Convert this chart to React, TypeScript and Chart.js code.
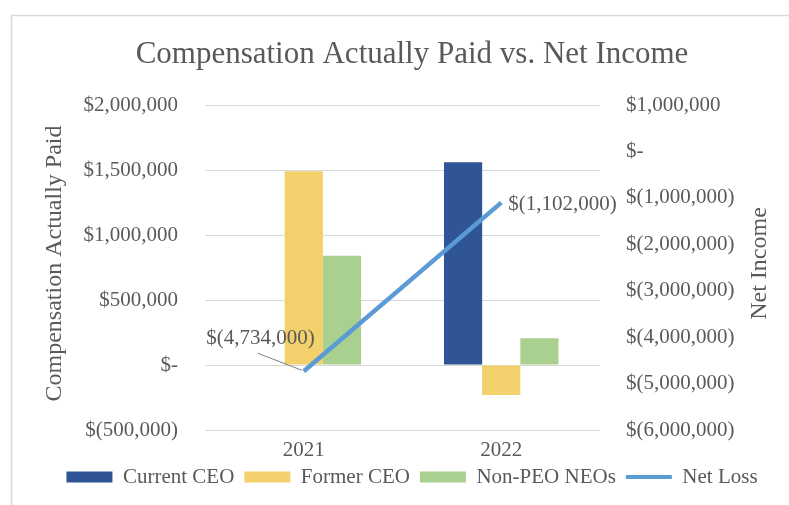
import React, { useEffect, useRef } from 'react';
import { Chart, registerables } from 'chart.js';

Chart.register(...registerables);

// ---- data ----
const YEARS = ['2021', '2022'];
const CURRENT_CEO: (number | null)[] = [null, 1560000];
const FORMER_CEO = [1490000, -230000];
const NON_PEO_NEOS = [840000, 205000];
const NET_LOSS = [-4734000, -1102000];
const NET_LOSS_LABELS = ['$(4,734,000)', '$(1,102,000)'];
const LEFT_TICK_LABELS = ['$(500,000)', '$-', '$500,000', '$1,000,000', '$1,500,000', '$2,000,000'];
const RIGHT_TICK_LABELS = [
  '$(6,000,000)', '$(5,000,000)', '$(4,000,000)', '$(3,000,000)',
  '$(2,000,000)', '$(1,000,000)', '$-', '$1,000,000',
];

const FONT = "'Liberation Serif', 'Times New Roman', serif";
const TEXT = '#595959';
const COLORS = {
  current: '#2F5597',
  former: '#F2D06B',
  nonPeo: '#A9D08E',
  net: '#5B9BD5',
};

const decorPlugin = {
  id: 'decor',
  beforeDraw(chart: any) {
    const ctx = chart.ctx;
    ctx.save();
    ctx.strokeStyle = '#D9D9D9';
    ctx.lineWidth = 1.5;
    ctx.strokeRect(11.5, 15.5, chart.width + 40, chart.height + 40);
    ctx.restore();
  },
  afterDatasetsDraw(chart: any) {
    const ctx = chart.ctx;
    const meta = chart.getDatasetMeta(3);
    ctx.save();
    ctx.font = `21px ${FONT}`;
    ctx.fillStyle = TEXT;
    ctx.textBaseline = 'middle';
    meta.data.forEach((pt: any, i: number) => {
      if (i === 0) {
        ctx.strokeStyle = '#7F7F7F';
        ctx.lineWidth = 1;
        ctx.beginPath();
        ctx.moveTo(pt.x - 46, pt.y - 18);
        ctx.lineTo(pt.x - 2, pt.y - 1);
        ctx.stroke();
        ctx.textAlign = 'right';
        ctx.fillText(NET_LOSS_LABELS[i], pt.x + 11, pt.y - 33);
      } else {
        ctx.textAlign = 'left';
        ctx.fillText(NET_LOSS_LABELS[i], pt.x + 7, pt.y + 2);
      }
    });
    ctx.restore();
  },
  afterDraw(chart: any) {
    const { ctx, chartArea } = chart;
    const cy = (chartArea.top + chartArea.bottom) / 2 - 4;
    ctx.save();
    ctx.font = `24px ${FONT}`;
    ctx.fillStyle = TEXT;
    ctx.textAlign = 'center';
    ctx.textBaseline = 'middle';
    ctx.save();
    ctx.translate(chart.scales.y.left + 20, cy);
    ctx.rotate(-Math.PI / 2);
    ctx.fillText('Compensation Actually Paid', 0, 0);
    ctx.restore();
    ctx.save();
    ctx.translate(chart.scales.y1.right - 29, cy);
    ctx.rotate(-Math.PI / 2);
    ctx.fillText('Net Income', 0, 0);
    ctx.restore();
    ctx.restore();
  },
};

export default function App() {
  const ref = useRef<HTMLCanvasElement>(null);

  useEffect(() => {
    if (!ref.current) return;
    const chart = new Chart(ref.current, {
      type: 'bar',
      data: {
        labels: YEARS,
        datasets: [
          { type: 'bar', label: 'Current CEO', data: CURRENT_CEO, backgroundColor: COLORS.current, yAxisID: 'y', order: 1 },
          { type: 'bar', label: 'Former CEO', data: FORMER_CEO, backgroundColor: COLORS.former, yAxisID: 'y', order: 1 },
          { type: 'bar', label: 'Non-PEO NEOs', data: NON_PEO_NEOS, backgroundColor: COLORS.nonPeo, yAxisID: 'y', order: 1 },
          {
            type: 'line', label: 'Net Loss', data: NET_LOSS, borderColor: COLORS.net, backgroundColor: COLORS.net,
            borderWidth: 4.5, pointRadius: 0, tension: 0, yAxisID: 'y1', order: 0,
          },
        ] as any,
      },
      options: {
        responsive: false,
        animation: false,
        events: [],
        devicePixelRatio: 1,
        datasets: { bar: { categoryPercentage: 0.58, barPercentage: 1 } } as any,
        layout: { padding: { left: 35, right: 0, top: 15, bottom: 7.5 } },
        plugins: {
          tooltip: { enabled: false },
          title: {
            display: true,
            text: 'Compensation Actually Paid vs. Net Income',
            color: TEXT,
            font: { family: FONT, size: 31, weight: 'normal' },
            padding: { top: 21.4, bottom: 31.4 },
          },
          legend: {
            position: 'bottom',
            labels: {
              color: TEXT,
              font: { family: FONT, size: 21 },
              usePointStyle: true,
              pointStyleWidth: 46,
              boxHeight: 11,
              padding: 10,
              generateLabels: (c: any) =>
                c.data.datasets.map((ds: any, i: number) => ({
                  text: ds.label,
                  datasetIndex: i,
                  fillStyle: ds.type === 'line' ? 'rgba(0,0,0,0)' : ds.backgroundColor,
                  strokeStyle: ds.type === 'line' ? ds.borderColor : ds.backgroundColor,
                  lineWidth: ds.type === 'line' ? 4 : 0,
                  pointStyle: ds.type === 'line' ? 'line' : 'rect',
                  hidden: false,
                  fontColor: TEXT,
                })),
            },
          },
        },
        scales: {
          x: {
            grid: { display: false },
            border: { display: false },
            ticks: { color: TEXT, font: { family: FONT, size: 21 }, padding: 0 },
            afterFit: (s: any) => { s.height = 26.5; },
          },
          y: {
            position: 'left',
            min: -500000,
            max: 2000000,
            grid: { color: '#D9D9D9', lineWidth: 1, drawTicks: false },
            border: { display: false },
            ticks: {
              stepSize: 500000,
              color: TEXT,
              font: { family: FONT, size: 21 },
              padding: 27,
              callback: (_v: any, i: number) => LEFT_TICK_LABELS[i],
            },
            afterFit: (s: any) => { s.width = 170; },
          },
          y1: {
            position: 'right',
            min: -6000000,
            max: 1000000,
            grid: { display: false, drawTicks: false },
            border: { display: false },
            ticks: {
              stepSize: 1000000,
              color: TEXT,
              font: { family: FONT, size: 21 },
              padding: 26,
              callback: (_v: any, i: number) => RIGHT_TICK_LABELS[i],
            },
            afterFit: (s: any) => { s.width = 189; },
          },
        },
      } as any,
      plugins: [decorPlugin],
    });
    return () => chart.destroy();
  }, []);

  return (
    <div style={{ position: 'fixed', left: 0, top: 0, width: 789, height: 505, background: '#fff' }}>
      <canvas ref={ref} width={789} height={505} style={{ display: 'block' }} />
    </div>
  );
}
